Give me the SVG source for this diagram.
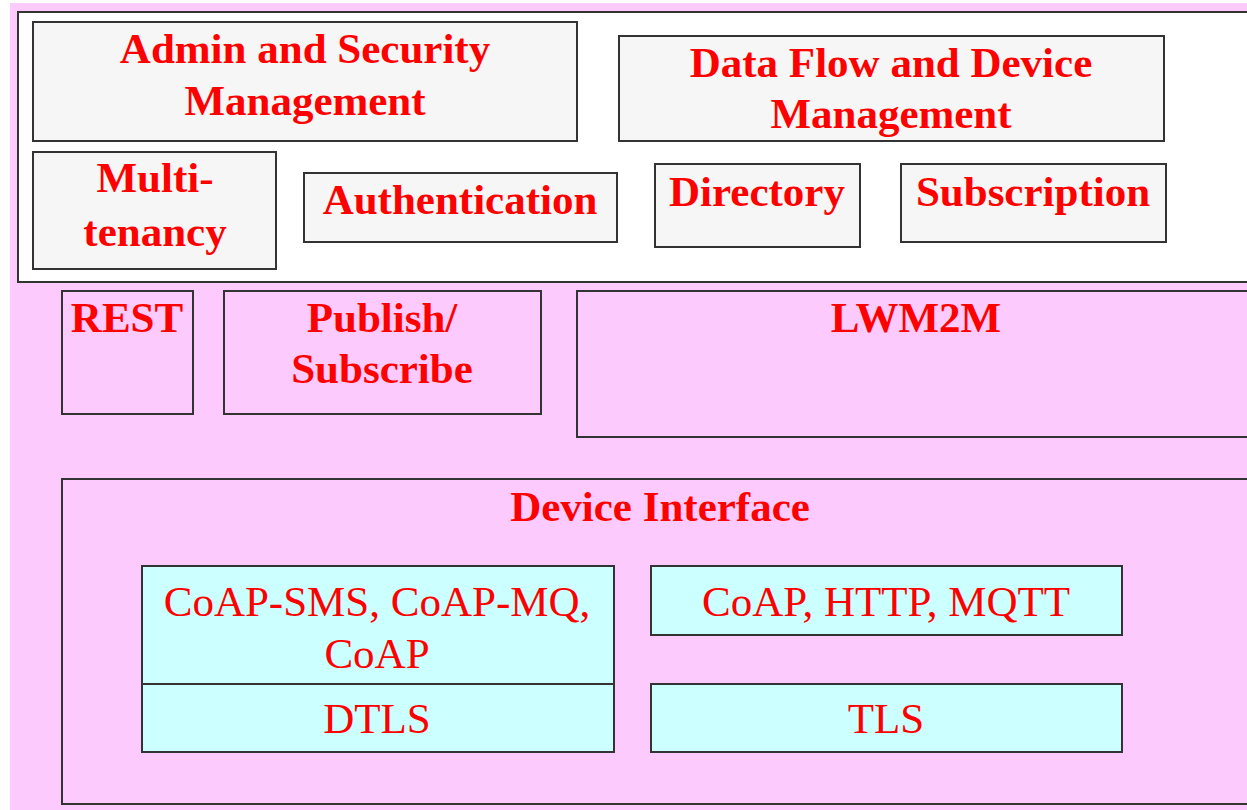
<svg xmlns="http://www.w3.org/2000/svg" width="1247" height="810" viewBox="0 0 1247 810">
<style>
.box{stroke:#333;stroke-width:2}
.grey{fill:#f6f6f6}
.pink{fill:#fccafc}
.cyan{fill:#ccffff}
.b{font-family:"Liberation Serif","Times New Roman",serif;font-weight:bold;font-size:43px;fill:#ff0000;text-anchor:middle}
.r{font-family:"Liberation Serif","Times New Roman",serif;font-size:43px;fill:#ff0000;text-anchor:middle}
</style>
<rect x="0" y="0" width="1247" height="810" fill="#ffffff"/>
<rect x="10" y="3" width="1237" height="807" fill="#fccafc"/>
<g id="management-layer">
<rect x="18" y="12" width="1240" height="270" fill="#ffffff" class="box"/>
</g>
<g id="admin-security">
<rect x="33" y="22" width="544" height="119" class="box grey"/>
<text class="b" x="305" y="63">Admin and Security</text>
<text class="b" x="305" y="115">Management</text>
</g>
<g id="data-flow">
<rect x="619" y="36" width="545" height="105" class="box grey"/>
<text class="b" x="891" y="77">Data Flow and Device</text>
<text class="b" x="891" y="128">Management</text>
</g>
<g id="multi-tenancy">
<rect x="33" y="152" width="243" height="117" class="box grey"/>
<text class="b" x="155" y="192">Multi-</text>
<text class="b" x="155" y="246">tenancy</text>
</g>
<g id="authentication">
<rect x="304" y="173" width="313" height="69" class="box grey"/>
<text class="b" x="460" y="214">Authentication</text>
</g>
<g id="directory">
<rect x="655" y="164" width="205" height="83" class="box grey"/>
<text class="b" x="757" y="206">Directory</text>
</g>
<g id="subscription">
<rect x="901" y="164" width="265" height="78" class="box grey"/>
<text class="b" x="1033" y="206">Subscription</text>
</g>
<g id="rest">
<rect x="62" y="291" width="131" height="123" class="box pink"/>
<text class="b" x="127" y="332">REST</text>
</g>
<g id="publish-subscribe">
<rect x="224" y="291" width="317" height="123" class="box pink"/>
<text class="b" x="382" y="332">Publish/</text>
<text class="b" x="382" y="383">Subscribe</text>
</g>
<g id="lwm2m">
<rect x="577" y="291" width="690" height="146" class="box pink"/>
<text class="b" x="916" y="332">LWM2M</text>
</g>
<g id="device-interface">
<rect x="62" y="479" width="1200" height="325" class="box pink"/>
<text class="b" x="660" y="521">Device Interface</text>
</g>
<g id="coap-sms">
<rect x="142" y="566" width="472" height="118" class="box cyan"/>
<text class="r" x="377" y="616">CoAP-SMS, CoAP-MQ,</text>
<text class="r" x="377" y="668">CoAP</text>
</g>
<g id="dtls">
<rect x="142" y="684" width="472" height="68" class="box cyan"/>
<text class="r" x="377" y="733">DTLS</text>
</g>
<g id="coap-http-mqtt">
<rect x="651" y="566" width="471" height="69" class="box cyan"/>
<text class="r" x="886" y="616">CoAP, HTTP, MQTT</text>
</g>
<g id="tls">
<rect x="651" y="684" width="471" height="68" class="box cyan"/>
<text class="r" x="886" y="733">TLS</text>
</g>
<g id="connectors"></g>
</svg>
